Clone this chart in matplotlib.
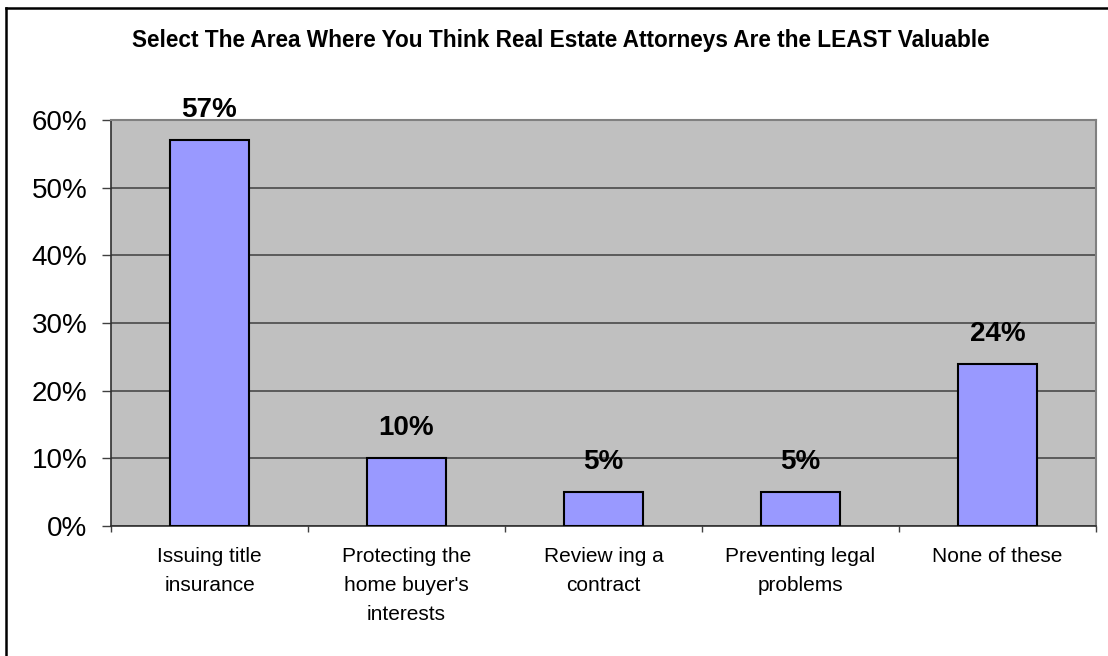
import matplotlib
matplotlib.use("Agg")
import matplotlib.pyplot as plt
from matplotlib.lines import Line2D

plt.rcParams['font.family'] = ['Liberation Sans', 'DejaVu Sans']

categories = [
    "Issuing title\ninsurance",
    "Protecting the\nhome buyer's\ninterests",
    "Review ing a\ncontract",
    "Preventing legal\nproblems",
    "None of these",
]
values = [57, 10, 5, 5, 24]
y_ticks = [0, 10, 20, 30, 40, 50, 60]
y_tick_labels = [f"{v}%" for v in y_ticks]
title = "Select The Area Where You Think Real Estate Attorneys Are the LEAST Valuable"

W, H = 1108, 656
fig = plt.figure(figsize=(W / 100, H / 100), dpi=100)
fig.patch.set_facecolor("white")

# outer frame (top and left edges)
fig.add_artist(Line2D([5.5 / W, 5.5 / W], [0, 1 - 7.5 / H], transform=fig.transFigure,
                      color="black", lw=1.8, solid_capstyle="projecting"))
fig.add_artist(Line2D([5.5 / W, 1], [1 - 7.5 / H, 1 - 7.5 / H], transform=fig.transFigure,
                      color="black", lw=1.8, solid_capstyle="projecting"))

left, right, top, bottom = 111, 1096, 120, 526
ax = fig.add_axes([left / W, 1 - bottom / H, (right - left) / W, (bottom - top) / H])
ax.set_facecolor("#C0C0C0")

x = list(range(len(categories)))
bars = ax.bar(x, values, width=0.4, color="#9999FF", edgecolor="black", linewidth=1.5, zorder=3)

for xi, v in zip(x, values):
    ax.annotate(f"{v}%", (xi, v), xytext=(0, 16.5), textcoords="offset points",
                ha="center", va="baseline", fontsize=20, fontweight="bold", zorder=4)

ax.set_xlim(-0.5, len(categories) - 0.5)
ax.set_ylim(0, 60)
ax.set_yticks(y_ticks)
ax.set_yticklabels(y_tick_labels, fontsize=20)
ax.yaxis.grid(True, color="#404040", linewidth=1.1, zorder=1)
ax.set_axisbelow(True)
ax.tick_params(axis="y", direction="out", length=6.5, width=1, color="#404040", pad=10.5)

ax.set_xticks(x)
ax.set_xticklabels(categories, fontsize=15, linespacing=1.68)
ax.set_xticks([i - 0.5 for i in range(len(categories) + 1)], minor=True)
ax.tick_params(axis="x", which="major", length=0, pad=15)
ax.tick_params(axis="x", which="minor", direction="out", length=4.5, width=1, color="#404040")

for s in ("left", "bottom"):
    ax.spines[s].set_color("#303030")
    ax.spines[s].set_linewidth(1.2)
for s in ("top", "right"):
    ax.spines[s].set_color("#808080")
    ax.spines[s].set_linewidth(1.5)

fig.text(561 / W, 1 - 41 / H, title, ha="center", va="center", fontsize=16.3, fontweight="bold")

fig.savefig("out.png", dpi=100, facecolor="white")
